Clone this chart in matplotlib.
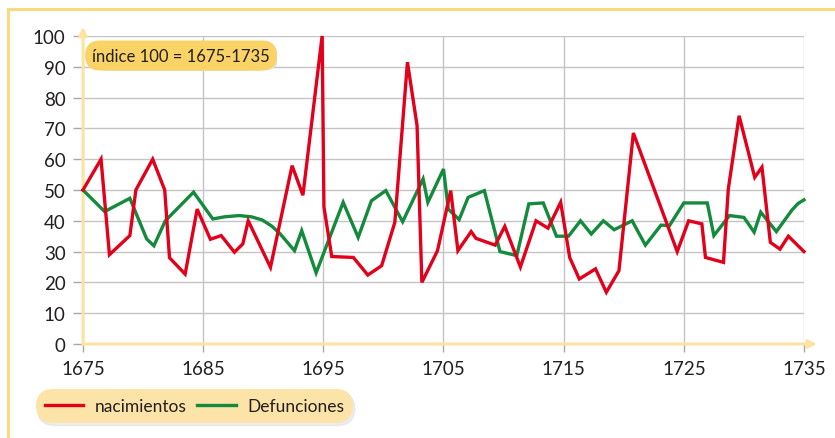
import matplotlib
matplotlib.use("Agg")
import matplotlib.pyplot as plt
from matplotlib.lines import Line2D
from matplotlib.patches import FancyBboxPatch

plt.rcParams['font.family'] = ['Lato', 'DejaVu Sans']

# ---- data ----
nac_years = [1675.0, 1676.5, 1677.2, 1678.9, 1679.4, 1680.8, 1681.8, 1682.2, 1683.5, 1684.5,
             1685.6, 1686.5, 1687.6, 1688.3, 1688.75, 1690.6, 1692.4, 1693.3, 1694.9, 1695.05,
             1695.7, 1697.5, 1698.7, 1699.85, 1700.95, 1702.0, 1702.8, 1703.2, 1704.5, 1705.6,
             1706.2, 1707.3, 1707.7, 1709.3, 1710.1, 1711.4, 1712.7, 1713.7, 1714.75, 1715.5,
             1716.3, 1717.65, 1718.55, 1719.6, 1720.8, 1724.45, 1725.4, 1726.5, 1726.8, 1728.3,
             1728.7, 1729.6, 1730.9, 1731.5, 1732.2, 1733.0, 1733.7, 1735.0]
nacimientos = [50, 60, 29, 35.2, 50, 60, 50, 28, 22.7, 43.8,
               34, 35.2, 29.8, 32.5, 40, 24.9, 57.9, 48.3, 100, 44.5,
               28.4, 28.1, 22.4, 25.4, 39.5, 91.5, 70.9, 20, 30.3, 49.8,
               30.3, 36.5, 34.3, 32.1, 38.2, 25.0, 40, 37.6, 46, 28.1,
               21.1, 24.4, 16.8, 23.8, 68.5, 30, 40, 39, 28.1, 26.5,
               50.3, 74.1, 54.1, 57.4, 33, 30.8, 35, 30]

def_years = [1675.0, 1676.8, 1678.9, 1680.3, 1680.9, 1681.85, 1684.2, 1685.8, 1686.8, 1688.0,
             1689.0, 1689.9, 1690.7, 1691.4, 1691.9, 1692.6, 1693.2, 1694.4, 1696.65, 1697.9,
             1699.0, 1700.2, 1701.6, 1703.3, 1703.7, 1705.0, 1705.4, 1706.3, 1707.05, 1708.4,
             1709.7, 1711.1, 1712.1, 1713.3, 1714.4, 1715.4, 1716.4, 1717.3, 1718.3, 1719.2,
             1720.7, 1721.8, 1723.1, 1723.8, 1725.0, 1726.95, 1727.5, 1728.8, 1730.0, 1730.85,
             1731.4, 1732.7, 1734.0, 1734.5, 1735.0]
defunciones = [50, 43, 47.3, 34.1, 31.9, 40, 49.3, 40.6, 41.3, 41.7,
               41.3, 40.3, 38.3, 35.8, 33.5, 30.3, 36.8, 23.1, 46, 34.6,
               46.5, 49.8, 39.7, 53.6, 46, 56.8, 43.8, 40.4, 47.6, 49.8,
               30, 28.7, 45.5, 45.8, 35, 35, 40, 35.7, 40, 37.1,
               40, 32.1, 38.6, 38.4, 45.8, 45.8, 35.2, 41.7, 41.1, 36.3,
               42.8, 36.5, 43.5, 45.6, 46.8]

x_ticks = [1675, 1685, 1695, 1705, 1715, 1725, 1735]
y_ticks = [0, 10, 20, 30, 40, 50, 60, 70, 80, 90, 100]
series_labels = ['nacimientos', 'Defunciones']
note_text = 'índice 100 = 1675-1735'

RED = '#E2001A'
GREEN = '#138A3C'
AXIS_YEL = '#FCE3A2'
FRAME_YEL = '#FBD980'
GRID = '#C4C4C4'
TXT = '#231F20'

W, H = 835, 439
fig = plt.figure(figsize=(W / 100, H / 100), dpi=100)
fig.patch.set_facecolor('white')

# outer open frame (top and left)
fig.add_artist(Line2D([8 / W, 1.0], [1 - 10 / H, 1 - 10 / H], color=FRAME_YEL, lw=2.2))
fig.add_artist(Line2D([8 / W, 8 / W], [0.0, 1 - 10 / H], color=FRAME_YEL, lw=2.2))

x0, x1 = 83, 804
y0, y1 = 345, 37
ax = fig.add_axes([x0 / W, 1 - y0 / H, (x1 - x0) / W, (y0 - y1) / H])
ax.set_xlim(1675, 1735)
ax.set_ylim(0, 100)

ax.set_xticks(x_ticks)
ax.set_yticks(y_ticks)
ax.grid(True, color=GRID, lw=1.0)
ax.set_axisbelow(True)
for s in ax.spines.values():
    s.set_visible(False)
ax.tick_params(axis='both', colors='#A8A8A8', labelcolor=TXT, labelsize=13.5, width=1.0)
ax.tick_params(axis='y', length=7.5, pad=5)
ax.tick_params(axis='x', length=5.5, pad=6)

# yellow axes with arrows
ax.annotate('', xy=(0, 1.03), xytext=(0, 0), xycoords='axes fraction',
            arrowprops=dict(arrowstyle='-|>', color=AXIS_YEL, lw=2.2, mutation_scale=12,
                            shrinkA=0, shrinkB=0), annotation_clip=False)
ax.annotate('', xy=(1.018, 0), xytext=(0, 0), xycoords='axes fraction',
            arrowprops=dict(arrowstyle='-|>', color=AXIS_YEL, lw=2.2, mutation_scale=12,
                            shrinkA=0, shrinkB=0), annotation_clip=False)

l1, = ax.plot(nac_years, nacimientos, color=RED, lw=2.4, solid_joinstyle='miter',
              label=series_labels[0], clip_on=False, zorder=4)
l2, = ax.plot(def_years, defunciones, color=GREEN, lw=2.4, solid_joinstyle='miter',
              label=series_labels[1], clip_on=False, zorder=3)

# index note: soft shadow patch + text box
shadow = FancyBboxPatch((89 / W, 1 - 72 / H), 188 / W, 27 / H,
                        boxstyle='round,pad=0,rounding_size=0.03',
                        transform=fig.transFigure, facecolor='#E4E1DA',
                        edgecolor='none', zorder=9, mutation_aspect=H / W)
fig.add_artist(shadow)
fig.text(181 / W, 1 - 56.5 / H, note_text, ha='center', va='center', fontsize=12,
         color=TXT,
         bbox=dict(boxstyle='round,pad=0.42,rounding_size=0.9', facecolor='#F9D366',
                   edgecolor='none'), zorder=10)

# legend
leg = fig.legend(handles=[l1, l2], labels=series_labels, loc='center left',
                 bbox_to_anchor=(30 / W, 1 - 407 / H), ncol=2, fontsize=12.5,
                 frameon=True, fancybox=True, facecolor='#FCE3A8', edgecolor='none',
                 framealpha=1, handlelength=2.2, handletextpad=0.7, columnspacing=0.6,
                 borderpad=0.35, shadow={'color': '#DCDCDC', 'ox': 1, 'oy': -2})
for t in leg.get_texts():
    t.set_color(TXT)
leg.get_frame().set_boxstyle('round,pad=0.15,rounding_size=1.0')

fig.savefig('out.png', dpi=100)
